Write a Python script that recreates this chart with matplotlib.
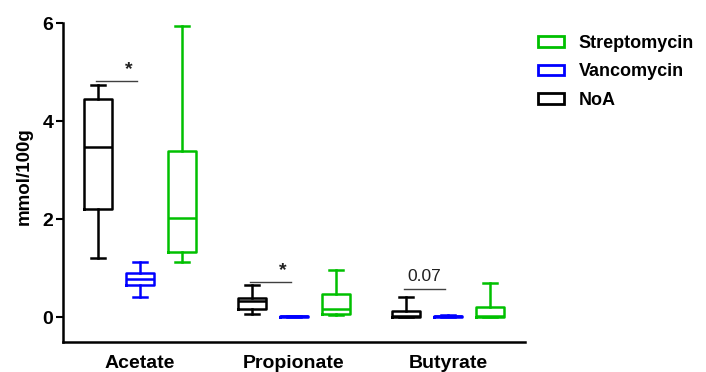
import matplotlib
matplotlib.use("Agg")
import matplotlib.pyplot as plt
from matplotlib.patches import Patch

plt.rcParams['font.family'] = ['Liberation Sans', 'DejaVu Sans']

categories = ["Acetate", "Propionate", "Butyrate"]
series = ["NoA", "Vancomycin", "Streptomycin"]
colors = {"NoA": "#000000", "Vancomycin": "#0000FF", "Streptomycin": "#00C000"}

# box statistics per series: [Acetate, Propionate, Butyrate]
noa_whislo = [1.22, 0.08, 0.00]
noa_q1 = [2.20, 0.18, 0.00]
noa_med = [3.47, 0.33, 0.02]
noa_q3 = [4.45, 0.39, 0.14]
noa_whishi = [4.73, 0.67, 0.41]

van_whislo = [0.41, 0.00, 0.00]
van_q1 = [0.67, 0.01, 0.01]
van_med = [0.78, 0.02, 0.02]
van_q3 = [0.90, 0.02, 0.03]
van_whishi = [1.12, 0.03, 0.05]

str_whislo = [1.12, 0.04, 0.00]
str_q1 = [1.33, 0.08, 0.00]
str_med = [2.02, 0.18, 0.03]
str_q3 = [3.39, 0.47, 0.21]
str_whishi = [5.94, 0.96, 0.71]

stats_src = {
    "NoA": (noa_whislo, noa_q1, noa_med, noa_q3, noa_whishi),
    "Vancomycin": (van_whislo, van_q1, van_med, van_q3, van_whishi),
    "Streptomycin": (str_whislo, str_q1, str_med, str_q3, str_whishi),
}

# significance annotations: (category index, bar height, label)
sig_cat = [0, 1, 2]
sig_y = [4.82, 0.73, 0.59]
sig_text = ["*", "*", "0.07"]

fig = plt.figure(figsize=(7.06, 3.72), dpi=100)
ax = fig.add_axes([63/706, 1-342/372, (525-63)/706, (342-23)/372])

offset = 0.273
width = 0.18
for si, s in enumerate(series):
    wl, q1, md, q3, wh = stats_src[s]
    st = [dict(whislo=wl[i], q1=q1[i], med=md[i], q3=q3[i], whishi=wh[i], fliers=[])
          for i in range(len(categories))]
    pos = [i + (si - 1) * offset for i in range(len(categories))]
    c = colors[s]
    lp = dict(color=c, linewidth=1.8)
    ax.bxp(st, positions=pos, widths=width, showfliers=False,
           boxprops=lp, whiskerprops=lp, capprops=lp, medianprops=lp,
           manage_ticks=False)

# significance bars
for ci, y, t in zip(sig_cat, sig_y, sig_text):
    x0 = ci - offset - 0.01
    x1 = ci - 0.02
    ax.plot([x0, x1], [y, y], color="#404040", lw=1.0)
    if t == "*":
        ax.text(ci - 0.07, y + 0.05, t, ha="center", va="bottom", fontsize=14,
                fontweight="bold", color="#202020")
    else:
        ax.text((x0 + x1) / 2, y + 0.1, t, ha="center", va="bottom", fontsize=12.5, color="#202020")

ax.set_xlim(-0.5, 2.5)
ax.set_ylim(-0.5, 6)
ax.set_yticks([0, 2, 4, 6])
ax.set_yticklabels(["0", "2", "4", "6"], fontsize=14, fontweight="bold")
ax.set_xticks(range(len(categories)))
ax.set_xticklabels(categories, fontsize=14, fontweight="bold")
ax.tick_params(axis="x", length=0, pad=9)
ax.tick_params(axis="y", length=5, width=1.5, pad=2)
ax.set_ylabel("mmol/100g", fontsize=13.5, fontweight="bold")
ax.yaxis.set_label_coords(-0.065, 0.52)
for sp in ["top", "right"]:
    ax.spines[sp].set_visible(False)
for sp in ["left", "bottom"]:
    ax.spines[sp].set_linewidth(1.8)

handles = [Patch(facecolor="white", edgecolor=colors[s], linewidth=2, label=s)
           for s in ["Streptomycin", "Vancomycin", "NoA"]]
fig.legend(handles=handles, loc="upper left", bbox_to_anchor=(531/706, 1-28/372),
           frameon=False, prop=dict(size=13, weight="bold"), handlelength=1.4,
           handleheight=0.55, handletextpad=0.85, labelspacing=0.62, borderaxespad=0)

fig.savefig("out.png", dpi=100)
